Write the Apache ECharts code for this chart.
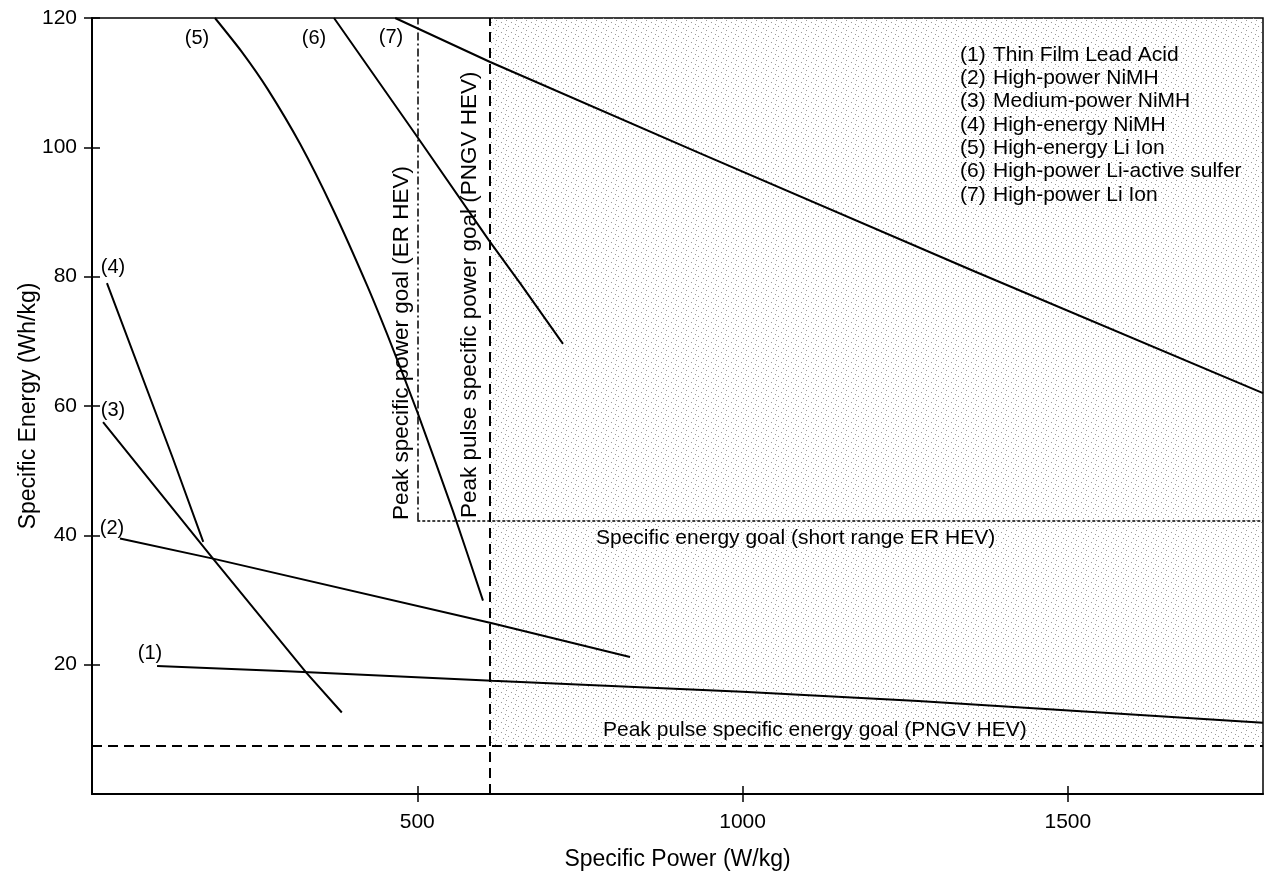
<!DOCTYPE html>
<html>
<head>
<meta charset="utf-8">
<title>Specific energy vs specific power</title>
<script src="https://cdn.jsdelivr.net/npm/echarts@6/dist/echarts.min.js"></script>
<style>
  html, body { margin: 0; padding: 0; background: #fff; }
  #chart { width: 1266px; height: 876px; }
</style>
</head>
<body>
<div id="chart"></div>
<script>
// curves: [specific power W/kg, specific energy Wh/kg]
const thinFilmLeadAcid = [[100, 19.8], [300, 19], [615, 17.5], [1000, 15.8], [1270, 14.4], [1800, 11]]
const highPowerNiMH = [[43, 39.5], [186, 36.4], [615, 26.4], [827, 21.2]]
const mediumPowerNiMH = [[17, 57.5], [186, 36.4], [330, 18.7], [384, 12.6]]
const highEnergyNiMH = [[23, 79], [124, 52], [171, 39]]
const highEnergyLiIon = [[189, 120], [230, 114.8], [270, 109], [320, 100.5], [370, 90.5], [423, 78.6], [460, 69.5], [500, 59.1], [555, 43.7], [601, 29.9]]
const highPowerLiS = [[372, 120], [498, 101.9], [611, 85.5], [658, 79], [724, 69.6]]
const highPowerLiIon = [[466, 120], [612, 113.2], [934, 99.1], [1357, 80.8], [1800, 62]]

const seriesNames = ['Thin Film Lead Acid', 'High-power NiMH', 'Medium-power NiMH', 'High-energy NiMH',
    'High-energy Li Ion', 'High-power Li-active sulfer', 'High-power Li Ion']
const seriesTags = ['(1)', '(2)', '(3)', '(4)', '(5)', '(6)', '(7)']

// goals
const pulsePowerGoal = 612
const pulseEnergyGoal = 7.5
const erPowerGoal = 500
const erEnergyGoal = 42.3

const xTicks = [500, 1000, 1500]
const yTicks = [20, 40, 60, 80, 100, 120]

const seriesData = [thinFilmLeadAcid, highPowerNiMH, mediumPowerNiMH, highEnergyNiMH,
    highEnergyLiIon, highPowerLiS, highPowerLiIon]

const FONT = '"Liberation Sans", Arial, Helvetica, sans-serif'

// stippled fill for the goal region
function stipple() {
    const c = document.createElement('canvas')
    c.width = 10
    c.height = 10
    const ctx = c.getContext('2d')
    ctx.fillStyle = '#999'
    ;[[1, 2], [6, 0], [8, 6], [3, 8], [5, 4]].forEach(p => ctx.fillRect(p[0], p[1], 1, 1))
    return c
}

// where the (n) tags sit next to each curve, in pixels
const tagPos = [[150, 653], [112, 528], [113, 410], [113, 267], [197, 38], [314, 38], [391, 37]]

const graphic = []
seriesTags.forEach((t, i) => {
    graphic.push({
        type: 'text', x: tagPos[i][0], y: tagPos[i][1], z: 10,
        style: { text: t, font: '20px ' + FONT, fill: '#000', textAlign: 'center', textVerticalAlign: 'middle' }
    })
    // legend block, top right
    graphic.push({
        type: 'text', x: 960, y: 55 + i * 23.3, z: 10,
        style: { text: t, font: '21px ' + FONT, fill: '#000', textAlign: 'left', textVerticalAlign: 'middle' }
    })
    graphic.push({
        type: 'text', x: 993, y: 55 + i * 23.3, z: 10,
        style: { text: seriesNames[i], font: '21px ' + FONT, fill: '#000', textAlign: 'left', textVerticalAlign: 'middle' }
    })
})
graphic.push(
    {
        type: 'text', x: 596, y: 538, z: 10,
        style: { text: 'Specific energy goal (short range ER HEV)', font: '21px ' + FONT, fill: '#000', textVerticalAlign: 'middle' }
    },
    {
        type: 'text', x: 603, y: 730, z: 10,
        style: { text: 'Peak pulse specific energy goal (PNGV HEV)', font: '21px ' + FONT, fill: '#000', textVerticalAlign: 'middle' }
    },
    {
        type: 'text', x: 402, y: 520, rotation: Math.PI / 2, z: 10,
        style: { text: 'Peak specific power goal (ER HEV)', font: '22.5px ' + FONT, fill: '#000', textAlign: 'left', textVerticalAlign: 'middle' }
    },
    {
        type: 'text', x: 470, y: 518, rotation: Math.PI / 2, z: 10,
        style: { text: 'Peak pulse specific power goal (PNGV HEV)', font: '22.5px ' + FONT, fill: '#000', textAlign: 'left', textVerticalAlign: 'middle' }
    }
)

const chart = echarts.init(document.getElementById('chart'), null, { renderer: 'canvas' })

const series = seriesData.map((d, i) => ({
    name: seriesNames[i],
    type: 'line',
    data: d,
    showSymbol: false,
    smooth: i === 4 ? 0.2 : false,
    lineStyle: { color: '#000', width: 2 },
    z: 5
}))

// goal region + goal lines
series.push({
    type: 'line',
    data: [],
    z: 1,
    markArea: {
        silent: true,
        itemStyle: { color: { image: stipple(), repeat: 'repeat' } },
        data: [[{ coord: [pulsePowerGoal, pulseEnergyGoal] }, { coord: [1800, 120] }]]
    },
    markLine: {
        silent: true,
        symbol: 'none',
        label: { show: false },
        data: [
            [{ coord: [pulsePowerGoal, 0], lineStyle: { type: [10, 6], width: 2, color: '#000' } },
                { coord: [pulsePowerGoal, 120] }],
            [{ coord: [0, pulseEnergyGoal], lineStyle: { type: [10, 6], width: 2, color: '#000' } },
                { coord: [1800, pulseEnergyGoal] }],
            [{ coord: [erPowerGoal, erEnergyGoal], lineStyle: { type: [8, 3, 2, 3], width: 1.5, color: '#000' } },
                { coord: [erPowerGoal, 120] }],
            [{ coord: [erPowerGoal, erEnergyGoal], lineStyle: { type: [3, 2], width: 1.5, color: '#000' } },
                { coord: [1800, erEnergyGoal] }]
        ]
    }
})

const option = {
    backgroundColor: '#fff',
    animation: false,
    grid: {
        left: 92, right: 3, top: 18, bottom: 80,
        show: true, borderColor: '#000', borderWidth: 1.5, backgroundColor: 'transparent'
    },
    xAxis: [{
        type: 'value', min: 0, max: 1800,
        name: 'Specific Power (W/kg)', nameLocation: 'middle', nameGap: 54, nameMoveOverlap: false,
        nameTextStyle: { fontSize: 23, color: '#000', fontFamily: FONT },
        axisLine: { show: true, lineStyle: { color: '#000', width: 2 } },
        axisTick: { show: true, length: 8, customValues: xTicks, lineStyle: { color: '#000', width: 1.5 } },
        axisLabel: { customValues: xTicks, fontSize: 21, color: '#000', fontFamily: FONT, margin: 18, formatter: v => String(v) },
        splitLine: { show: false }
    }, {
        type: 'value', min: 0, max: 1800, position: 'bottom',
        axisLine: { show: false },
        axisTick: { show: true, inside: true, length: 8, customValues: xTicks, lineStyle: { color: '#000', width: 1.5 } },
        axisLabel: { show: false },
        splitLine: { show: false }
    }],
    yAxis: [{
        type: 'value', min: 0, max: 120,
        name: 'Specific Energy (Wh/kg)', nameLocation: 'middle', nameGap: 52, nameMoveOverlap: false,
        nameTextStyle: { fontSize: 23, color: '#000', fontFamily: FONT },
        axisLine: { show: true, lineStyle: { color: '#000', width: 2 } },
        axisTick: { show: true, length: 8, customValues: yTicks, lineStyle: { color: '#000', width: 1.5 } },
        axisLabel: { customValues: yTicks, fontSize: 21, color: '#000', fontFamily: FONT, margin: 15, formatter: v => String(v) },
        splitLine: { show: false }
    }, {
        type: 'value', min: 0, max: 120, position: 'left',
        axisLine: { show: false },
        axisTick: { show: true, inside: true, length: 8, customValues: yTicks, lineStyle: { color: '#000', width: 1.5 } },
        axisLabel: { show: false },
        splitLine: { show: false }
    }],
    series: series,
    graphic: graphic
}

chart.setOption(option)
</script>
</body>
</html>
